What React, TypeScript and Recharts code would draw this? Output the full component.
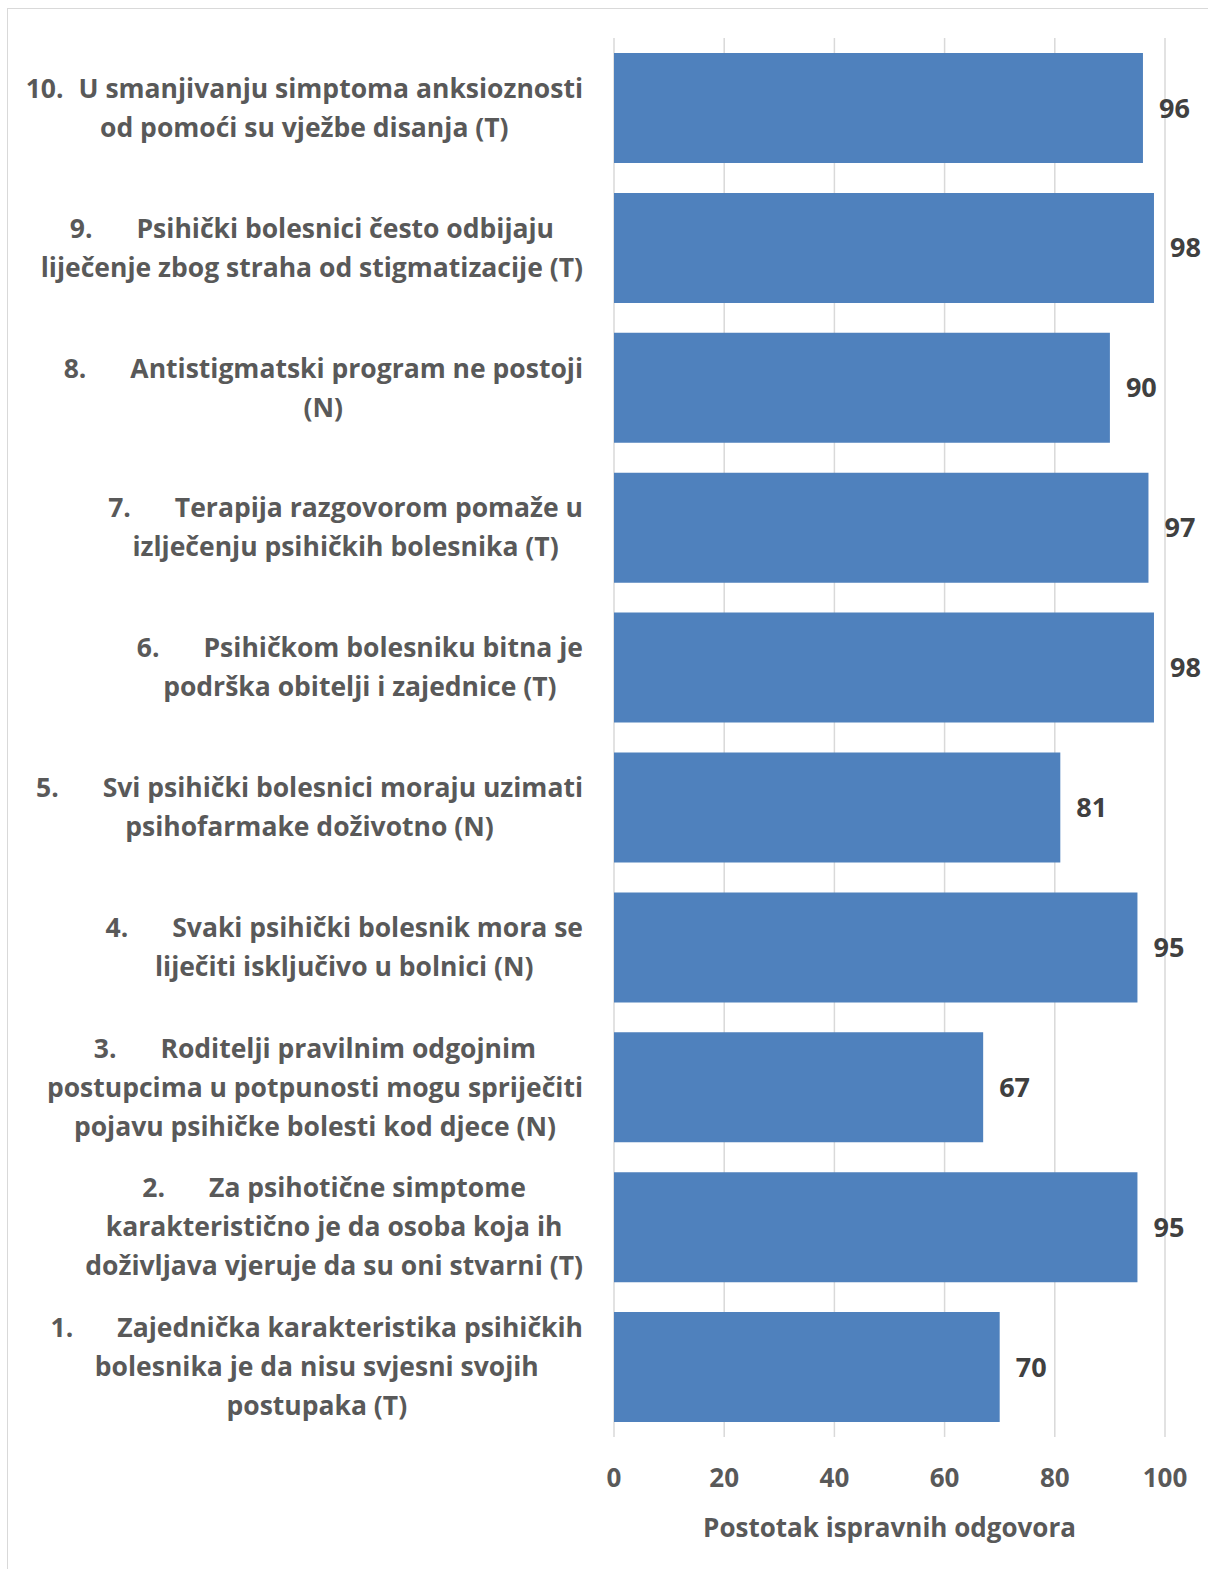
import React from "react";
import {
  BarChart,
  Bar,
  XAxis,
  YAxis,
  CartesianGrid,
  LabelList,
} from "recharts";

const itemNumbers = ["10.", "9.", "8.", "7.", "6.", "5.", "4.", "3.", "2.", "1."];

const itemLines: string[][] = [
  ["U smanjivanju simptoma anksioznosti", "od pomoći su vježbe disanja (T)"],
  ["Psihički bolesnici često odbijaju", "liječenje zbog straha od stigmatizacije (T)"],
  ["Antistigmatski program ne postoji", "(N)"],
  ["Terapija razgovorom pomaže u", "izlječenju psihičkih bolesnika (T)"],
  ["Psihičkom bolesniku bitna je", "podrška obitelji i zajednice (T)"],
  ["Svi psihički bolesnici moraju uzimati", "psihofarmake doživotno (N)"],
  ["Svaki psihički bolesnik mora se", "liječiti isključivo u bolnici (N)"],
  ["Roditelji pravilnim odgojnim", "postupcima u potpunosti mogu spriječiti", "pojavu psihičke bolesti kod djece (N)"],
  ["Za psihotične simptome", "karakteristično je da osoba koja ih", "doživljava vjeruje da su oni stvarni (T)"],
  ["Zajednička karakteristika psihičkih", "bolesnika je da nisu svjesni svojih", "postupaka (T)"],
];

const correctPct = [96, 98, 90, 97, 98, 81, 95, 67, 95, 70];

const xTicks = [0, 20, 40, 60, 80, 100];

const data = itemNumbers.map((n, i) => ({ item: n, value: correctPct[i] }));

const FONT = "'Open Sans', Lato, sans-serif";
const LABEL_SIZE = 26.5;

let ctx: CanvasRenderingContext2D | null = null;
function measure(s: string) {
  if (!ctx) ctx = document.createElement("canvas").getContext("2d");
  if (!ctx) return s.length * 14;
  ctx.font = `bold ${LABEL_SIZE}px 'Open Sans'`;
  return ctx.measureText(s).width;
}

function CategoryTick(props: any) {
  const { x, y, payload } = props;
  const idx = itemNumbers.indexOf(payload.value);
  if (idx < 0) return null;
  const num = itemNumbers[idx];
  const lines = itemLines[idx];
  const gap = num.length > 2 ? 15 : 44;
  const numW = measure(num);
  const widths = lines.map((l, i) => (i === 0 ? numW + gap + measure(l) : measure(l)));
  const blockW = Math.max(...widths);
  const cx = x - blockW / 2;
  const lineH = 39;
  const startY = y - ((lines.length - 1) * lineH) / 2;
  const textProps = {
    fill: "#595959",
    fontSize: LABEL_SIZE,
    fontWeight: 700,
    fontFamily: FONT,
    dy: "0.35em",
  };
  return (
    <g>
      {lines.map((l, i) => {
        const ly = startY + i * lineH;
        if (i === 0) {
          const left = cx - widths[0] / 2;
          return (
            <g key={i}>
              <text x={left} y={ly} textAnchor="start" {...textProps}>
                {num}
              </text>
              <text x={left + numW + gap} y={ly} textAnchor="start" {...textProps}>
                {l}
              </text>
            </g>
          );
        }
        return (
          <text key={i} x={cx} y={ly} textAnchor="middle" {...textProps}>
            {l}
          </text>
        );
      })}
    </g>
  );
}

export default function App() {
  return (
    <div
      style={{
        position: "absolute",
        left: 0,
        top: 0,
        width: 1208,
        height: 1569,
        overflow: "hidden",
        background: "#fff",
      }}
    >
      <div
        style={{
          position: "absolute",
          left: 7,
          top: 8,
          width: 1400,
          height: 1700,
          border: "1.5px solid #d9d9d9",
        }}
      />
      <div style={{ position: "absolute", left: 0, top: 0 }}>
        <BarChart
          width={1208}
          height={1569}
          data={data}
          layout="vertical"
          margin={{ top: 38, right: 43, bottom: 0, left: 0 }}
          style={{ fontFamily: FONT }}
        >
          <CartesianGrid horizontal={false} stroke="#d9d9d9" strokeWidth={1.5} />
          <XAxis
            type="number"
            domain={[0, 100]}
            ticks={xTicks}
            axisLine={false}
            tickLine={false}
            tickSize={0}
            tickMargin={32}
            height={132}
            tick={{ fill: "#595959", fontSize: 26, fontWeight: 700, fontFamily: FONT }}
            label={{
              value: "Postotak ispravnih odgovora",
              position: "insideBottom",
              offset: 32,
              fill: "#595959",
              fontSize: 26,
              fontWeight: 700,
              fontFamily: FONT,
            }}
          />
          <YAxis
            type="category"
            dataKey="item"
            width={614}
            axisLine={false}
            tickLine={false}
            tickSize={0}
            tickMargin={31}
            interval={0}
            tick={<CategoryTick />}
          />
          <Bar dataKey="value" fill="#4f81bd" barSize={110} isAnimationActive={false}>
            <LabelList
              dataKey="value"
              position="right"
              offset={16}
              fill="#404040"
              fontSize={27}
              fontWeight={700}
              fontFamily={FONT}
            />
          </Bar>
        </BarChart>
      </div>
    </div>
  );
}
